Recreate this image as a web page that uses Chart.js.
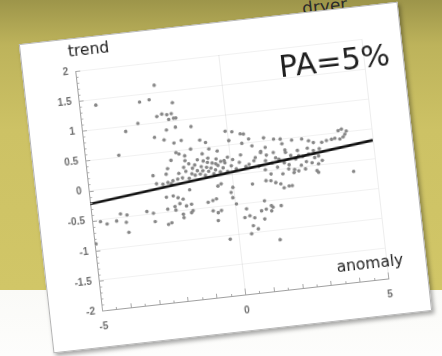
<!DOCTYPE html>
<html>
<head>
<meta charset="utf-8">
<script src="https://cdn.jsdelivr.net/npm/chart.js@4.4.1/dist/chart.umd.min.js"></script>
<style>
  html, body { margin: 0; padding: 0; }
  body {
    width: 442px; height: 356px; overflow: hidden; position: relative;
    background: linear-gradient(to bottom, #9d954a 0px, #bdb35b 45px, #cdc265 130px, #d1c667 290px, #fafaf7 290px, #fdfdfc 356px);
    font-family: "DejaVu Sans", sans-serif;
  }
  #card {
    position: absolute; left: 34.5px; top: 21.5px; width: 381px; height: 311px;
    background: #fff; box-sizing: border-box; border: 1px solid #b4b4b4;
    transform: rotate(-6.4deg);
    box-shadow: 2px 3px 4px rgba(0,0,0,0.35);
  }
  #chart { position: absolute; left: -1px; top: -1px; }
  .t { position: absolute; white-space: nowrap; color: #1e1e1e; line-height: 1; }
  #trend { left: 47px; top: 5px; font-size: 15.5px; }
  #pa { left: 255px; top: 36px; font-size: 30.5px; }
  #anomaly { left: 290px; top: 249px; font-size: 15.5px; }
  #dryer { position: absolute; left: 302px; top: -4px; font-size: 17px; color: #2a2a2a; transform: rotate(-6deg); }
</style>
</head>
<body>
<div id="dryer">dryer</div>
<div id="card">
  <canvas id="chart" width="381" height="311"></canvas>
  <div class="t" id="trend">trend</div>
  <div class="t" id="pa">PA=5%</div>
  <div class="t" id="anomaly">anomaly</div>
</div>
<script>
// points, [anomaly, trend]
var leftPoints = [
  [-4.42,1.40],[-2.33,1.62],[-2.90,1.37],[-2.56,1.39],[-1.77,1.30],[-3.49,0.91],[-3.04,1.02],[-3.82,0.53],
  [-2.36,1.10],[-2.18,1.13],[-2.01,1.11],[-1.85,1.12],[-1.96,1.03],[-1.79,1.04],[-1.71,1.04],[-2.08,0.86],
  [-1.76,0.89],[-1.22,0.87],[-2.52,0.76],[-2.20,0.70],[-1.87,0.63],[-1.61,0.66],[-1.84,0.47],[-1.74,0.44],
  [-1.32,0.50],[-1.55,0.40],[-1.56,0.32],[-2.04,0.35],[-2.19,0.22],[-2.72,0.13],[-2.63,-0.01],[-2.12,-0.04],
  [-2.10,-0.24],[-1.94,-0.28],[-1.77,-0.31],[-2.34,-0.25],[-1.51,-0.17],[-1.90,-0.38],[-1.68,-0.43],[-3.99,-0.44],
  [-3.77,-0.47],[-3.07,-0.45],[-2.85,-0.49],[-2.34,-0.45],[-1.82,-0.56],[-4.71,-0.53],[-4.49,-0.58],[-4.15,-0.55],
  [-3.82,-0.59],[-3.77,-0.76],[-2.82,-0.63],[-2.37,-0.70],[-2.25,-0.68],[-2.08,-0.42],[-2.06,-0.48],[-1.50,-0.41],
  [-1.81,-0.62],[-1.53,-0.55],[-1.47,-0.52],[-4.95,-0.89],[-2.26,0.13],[-2.41,-0.03],[-2.23,-0.01],[-2.05,0.01],
  [-1.88,0.03]
];
var bandPoints = [
  [-1.82,0.12],[-1.71,0.04],[-1.63,0.21],[-1.57,0.14],[-1.48,0.02],[-1.44,0.26],[-1.37,0.09],[-1.33,0.18],
  [-1.26,0.06],[-1.24,0.23],[-1.17,0.13],[-1.13,0.31],[-1.08,0.07],[-1.02,0.19],[-0.98,0.12],[-0.93,0.28],
  [-0.91,0.04],[-0.84,0.17],[-0.78,0.10],[-0.76,0.32],[-0.69,0.15],[-0.63,0.23],[-0.61,0.05],[-0.54,0.11],
  [-0.48,0.29],[-0.44,0.18],[-0.38,0.07],[-0.33,0.24],[-0.27,0.13],[-0.19,0.21],[-0.13,0.06],[-0.08,0.30],
  [0.02,0.15],[0.09,0.25],[0.18,0.09],[0.31,0.19],[0.38,0.31],[0.52,0.11],
  [0.88,0.24],[0.97,0.09],[1.09,0.33],[1.18,0.02],[1.27,0.26],[1.36,-0.06],[1.44,0.12],[1.52,0.29],
  [1.61,0.04],[1.69,0.17],[1.77,-0.08],[1.86,0.10],[1.93,0.31],[2.02,0.06],[2.11,0.21],[2.19,-0.03],
  [2.27,0.14],[2.36,0.28],[2.44,0.03],[2.52,0.17],[2.63,0.08],[2.71,0.30],[2.82,0.05],[2.93,0.13],
  [3.12,0.27],[3.18,0.07]
];
var rightPoints = [
  [-0.97,0.63],[-0.78,0.58],[-0.94,0.40],[-0.69,0.47],[-0.41,0.42],[-0.06,0.73],[0.17,0.71],[0.45,0.66],
  [0.56,0.65],[0.72,0.56],[0.03,0.57],[0.47,0.50],[0.81,0.44],[1.24,0.55],[1.58,0.51],[1.81,0.50],
  [2.20,0.46],[2.55,0.46],[2.78,0.42],[2.94,0.38],[1.85,0.42],[3.23,0.37],[3.40,0.39],[3.58,0.40],
  [3.70,0.41],[3.84,0.53],[3.96,0.55],[4.06,0.46],[3.99,0.42],[3.87,0.39],[4.12,0.51],[1.26,0.39],
  [1.08,0.31],[2.91,0.25],[2.73,0.20],[2.38,0.19],[1.94,0.27],[1.58,0.20],[1.22,0.17],[0.82,0.19],
  [0.64,0.14],[-0.21,0.25],[-0.51,0.21],[-0.79,0.25],[3.07,0.15],[3.04,0.02],[2.96,-0.09],[4.22,-0.17],
  [3.01,-0.12],[2.33,-0.06],[2.57,-0.04],[1.99,-0.01],[2.16,-0.08],[1.16,-0.16],[1.33,-0.17],[1.49,-0.21],
  [1.66,-0.24],[1.76,-0.31],[1.94,-0.29],[2.05,-0.29],[0.68,-0.19],[-0.01,-0.21],[-0.09,-0.29],[-0.05,-0.38],
  [-0.62,-0.37],[-0.75,-0.39],[1.03,-0.49],[-0.78,-0.56],[-0.61,-0.60],[-0.49,-0.57],[0.38,-0.59],[0.89,-0.65],
  [1.06,-0.63],[1.24,-0.67],[1.30,-0.61],[1.59,-0.60],[-0.64,-0.73],[0.29,-0.73],[0.47,-0.71],[0.63,-0.75],
  [0.97,-0.79],[0.55,-0.88],[0.71,-0.94],[0.46,-1.01],[-0.30,-1.06],[1.42,-1.16],[0.05,-0.49],[-0.92,-0.41],
  [-0.52,-0.16],[-0.40,-0.13],[1.25,-0.58]
];
// fitted trend line ends
var fitLine = [[-5, -0.22], [5, 0.31]];
var xLabels = [-5, 0, 5];

function toXY(arr) { return arr.map(function (p) { return { x: p[0], y: p[1] }; }); }

// small tick marks pointing inward, like the original axes
var minorTicks = {
  id: 'minorTicks',
  afterDatasetsDraw: function (chart) {
    var c = chart.ctx, x = chart.scales.x, y = chart.scales.y;
    c.save();
    c.strokeStyle = '#a8a8a8';
    c.lineWidth = 1;
    c.beginPath();
    for (var i = -20; i <= 20; i++) {
      var py = Math.round(y.getPixelForValue(i / 10)) + 0.5;
      var len = (i % 5 === 0) ? 5 : 2.5;
      c.moveTo(x.left, py); c.lineTo(x.left + len, py);
    }
    for (var j = -10; j <= 10; j++) {
      var px = Math.round(x.getPixelForValue(j / 2)) + 0.5;
      var l2 = (j % 10 === 0) ? 6 : (j % 2 === 0 ? 4 : 2);
      c.moveTo(px, y.bottom); c.lineTo(px, y.bottom - l2);
    }
    c.stroke();
    c.restore();
  }
};

var tickFont = { family: 'Liberation Sans, Arial, sans-serif', size: 10, weight: 'bold' };

new Chart(document.getElementById('chart'), {
  type: 'scatter',
  data: {
    datasets: [{
      data: toXY(fitLine),
      showLine: true,
      borderColor: '#111',
      borderWidth: 2.6,
      pointRadius: 0,
      order: 0
    }, {
      data: toXY(leftPoints.concat(bandPoints, rightPoints)),
      backgroundColor: '#878787',
      borderWidth: 0,
      pointRadius: 1.8,
      order: 1
    }]
  },
  options: {
    responsive: false,
    animation: false,
    layout: { padding: { top: 33, right: 40, left: 0, bottom: 0 } },
    plugins: { legend: { display: false }, tooltip: { enabled: false } },
    scales: {
      x: {
        type: 'linear', min: -5, max: 5,
        afterBuildTicks: function (s) { s.ticks = xLabels.map(function (v) { return { value: v }; }); },
        ticks: { color: '#6e6e6e', font: tickFont, padding: 10, maxRotation: 0 },
        grid: {
          drawTicks: false,
          color: function (c) { return (c.tick && c.tick.value !== -5) ? 'rgba(0,0,0,0.07)' : 'transparent'; }
        },
        border: { color: '#a0a0a0' },
        afterFit: function (s) { s.height = 37; }
      },
      y: {
        min: -2, max: 2,
        ticks: {
          stepSize: 0.5, color: '#6e6e6e', font: tickFont, padding: 7,
          callback: function (v) { return String(Math.round(v * 10) / 10); }
        },
        grid: { drawTicks: false, color: 'rgba(0,0,0,0.055)' },
        border: { color: '#a0a0a0' },
        afterFit: function (s) { s.width = 53; }
      }
    }
  },
  plugins: [minorTicks]
});
</script>
</body>
</html>
